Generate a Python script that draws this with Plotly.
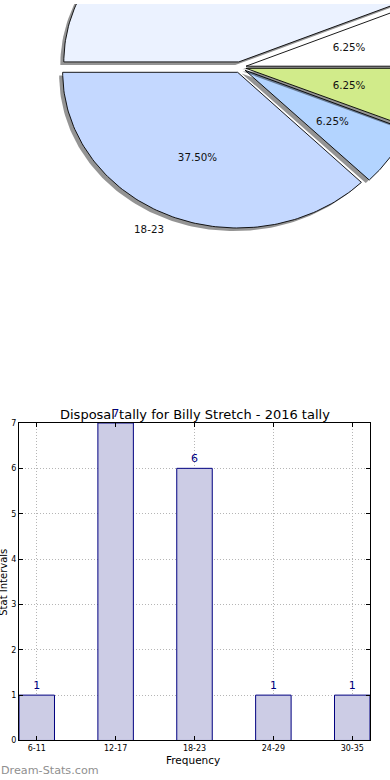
import numpy as np
import plotly.graph_objects as go

# ---------------- data ----------------
categories = ["6-11", "12-17", "18-23", "24-29", "30-35"]
counts = [1, 7, 6, 1, 1]
slice_colors = ["#FFFFFF", "#EBF2FF", "#C4D8FF", "#B3D4FF", "#D1EB8A"]
y_ticks = [0, 1, 2, 3, 4, 5, 6, 7]
title_text = "Disposal tally for Billy Stretch - 2016 tally"
x_title = "Frequency"
y_title = "Stat Intervals"
watermark = "Dream-Stats.com"

W, H = 390, 780
FONT = "DejaVu Sans"
NAVY = "#000080"
S = 0.9932  # vertical compensation of the capture


def py(t):
    """target pixel row -> paper fraction"""
    return 1 - (t / S) / H


fig = go.Figure()

# ---------------- pie (drawn as exploded, shadowed wedges) ----------------
total = float(sum(counts))
explode = 0.035
shadow_off = (-0.02, -0.02)
start = 0.0
pct_x, pct_y, pct_t = [], [], []
for cat, val, col in zip(categories, counts, slice_colors):
    t1 = start
    t2 = start + 360.0 * val / total
    mid = np.deg2rad((t1 + t2) / 2.0)
    ox, oy = explode * np.cos(mid), explode * np.sin(mid)
    th = np.deg2rad(np.linspace(t1, t2, 120))
    xs = np.concatenate([[ox], ox + np.cos(th), [ox]])
    ys = np.concatenate([[oy], oy + np.sin(th), [oy]])
    fig.add_trace(go.Scatter(
        x=xs + shadow_off[0], y=ys + shadow_off[1], mode="lines", fill="toself",
        fillcolor="rgba(0,0,0,0.42)", line=dict(width=0), hoverinfo="skip",
        showlegend=False, xaxis="x", yaxis="y"))
    fig.add_trace(go.Scatter(
        x=xs, y=ys, mode="lines", fill="toself", fillcolor=col,
        line=dict(color="#000000", width=0.9), hoverinfo="skip",
        showlegend=False, xaxis="x", yaxis="y"))
    pct_x.append(ox + 0.6 * np.cos(mid))
    pct_y.append(oy + 0.6 * np.sin(mid))
    pct_t.append("%.2f%%" % (100.0 * val / total))
    lx = ox + 1.1 * np.cos(mid)
    ly = oy + 1.1 * np.sin(mid)
    fig.add_trace(go.Scatter(
        x=[lx], y=[ly], mode="text", text=[cat],
        textposition="middle left" if lx < 0 else "middle right",
        textfont=dict(family=FONT, size=10.3, color="#111111"),
        hoverinfo="skip", showlegend=False, xaxis="x", yaxis="y"))
    start = t2

fig.add_trace(go.Scatter(
    x=pct_x, y=pct_y, mode="text", text=pct_t, textposition="middle center",
    textfont=dict(family=FONT, size=10.3, color="#111111"),
    hoverinfo="skip", showlegend=False, xaxis="x", yaxis="y"))

# ---------------- bar chart ----------------
fig.add_trace(go.Bar(
    x=categories, y=counts, width=0.45,
    marker=dict(color="#CCCCE5", line=dict(color=NAVY, width=1)),
    text=[str(v) for v in counts], textposition="outside",
    textfont=dict(family=FONT, size=11, color=NAVY),
    constraintext="none", cliponaxis=False,
    hoverinfo="skip", showlegend=False, xaxis="x2", yaxis="y2"))

bar_x0, bar_x1 = 19, 370
bar_y0, bar_y1 = 421, 740

grid_style = dict(showgrid=True, gridcolor="#b5b5b5", griddash="1px,2px", gridwidth=1)
axis_style = dict(showline=True, linecolor="#000000", linewidth=1, mirror="ticks",
                  ticks="inside", ticklen=4, tickcolor="#000000",
                  tickfont=dict(family=FONT, size=8, color="#000000"),
                  zeroline=False)

pie_cx, pie_cy = 240.0, 64.0
pie_rx, pie_ry = 175.0, 157.5
pie_h = H / 2.0

fig.update_layout(
    width=W, height=H, autosize=False,
    margin=dict(l=0, r=0, t=0, b=0),
    paper_bgcolor="white", plot_bgcolor="white",
    font=dict(family=FONT, color="#000000"),
    xaxis=dict(domain=[0, 1], range=[-pie_cx / pie_rx, (W - pie_cx) / pie_rx],
               visible=False, fixedrange=True),
    yaxis=dict(domain=[0.5, 1], range=[(pie_cy - pie_h) / pie_ry, pie_cy / pie_ry],
               visible=False, fixedrange=True),
    xaxis2=dict(domain=[bar_x0 / W, bar_x1 / W], anchor="y2", type="category",
                range=[-0.225, len(categories) - 1 + 0.225],
                **axis_style, **grid_style),
    yaxis2=dict(domain=[py(bar_y1), py(bar_y0)], anchor="x2",
                range=[0, 7], tickvals=y_ticks, **axis_style, **grid_style),
    annotations=[
        dict(text=title_text, xref="paper", yref="paper", x=194.5 / W, y=py(412),
             xanchor="center", yanchor="middle", showarrow=False,
             font=dict(family=FONT, size=13, color="#000000")),
        dict(text=x_title, xref="paper", yref="paper", x=193 / W, y=py(760),
             xanchor="center", yanchor="middle", showarrow=False,
             font=dict(family=FONT, size=10.5, color="#000000")),
        dict(text=y_title, xref="paper", yref="paper", x=3.5 / W, y=py(581),
             xanchor="center", yanchor="middle", showarrow=False, textangle=-90,
             font=dict(family=FONT, size=10, color="#000000")),
        dict(text=watermark, xref="paper", yref="paper", x=-1 / W, y=py(770),
             xanchor="left", yanchor="middle", showarrow=False,
             font=dict(family=FONT, size=11.2, color="#8f8f8f")),
    ],
)

post = (
    "document.documentElement.style.margin='0';"
    "document.documentElement.style.overflow='hidden';"
    "document.body.style.margin='0';"
    "document.body.style.overflow='hidden';"
)

fig.write_html("out.html", config={"displayModeBar": False}, post_script=post)
